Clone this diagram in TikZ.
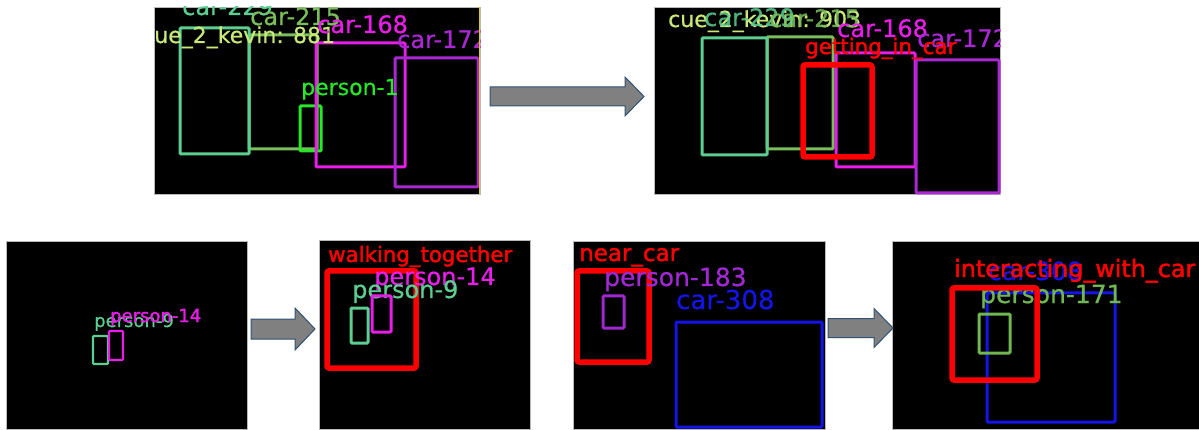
\documentclass[tikz,border=0pt]{standalone}
\usepackage{fontspec}
\newfontfamily\lblfont[FakeBold=0.6]{DejaVu Sans}
\newfontfamily\lblbold[FakeBold=1.8]{DejaVu Sans}
\newcommand\lblsz[1]{\fontsize{#1}{#1}\selectfont}

% label and box colours
\definecolor{cteal}{RGB}{92,206,146}
\definecolor{colive}{RGB}{122,190,92}
\definecolor{ccue}{RGB}{200,232,122}
\definecolor{cgreen}{RGB}{40,230,40}
\definecolor{cmag}{RGB}{232,30,232}
\definecolor{cpurple}{RGB}{170,40,212}
\definecolor{cviolet}{RGB}{160,40,210}
\definecolor{cred}{RGB}{255,0,0}
\definecolor{cblue}{RGB}{20,20,230}
\definecolor{cleaf}{RGB}{112,182,82}
\definecolor{arrfill}{RGB}{128,128,128}
\definecolor{arredge}{RGB}{47,82,115}

\tikzset{
  panel/.style={draw=gray!55, line width=0.7pt, fill=black, inner sep=0pt, anchor=north west},
  bx/.style={line width=3pt, rounded corners=1pt},
  redbx/.style={draw=cred, line width=5.5pt, rounded corners=2pt},
  lbl/.style={inner sep=0pt, anchor=base west},
  blockarrow/.style={fill=arrfill, draw=arredge, line width=1pt, line join=miter}
}

% block arrow: start x, head start x, tip x, centre y, half shaft, half head
\newcommand\blkarrow[6]{%
  \path[blockarrow] (#1,#4-#5) -- (#2,#4-#5) -- (#2,#4-#6) -- (#3,#4)
    -- (#2,#4+#6) -- (#2,#4+#5) -- (#1,#4+#5) -- cycle;}

\begin{document}
\begin{tikzpicture}[x=1pt,y=-1pt]
\useasboundingbox (0,0) rectangle (1199,430);

% ---------- frames ----------
\node[panel, minimum width=326pt, minimum height=187pt] (p1) at (154,7) {};
\node[panel, minimum width=346pt, minimum height=187pt] (p2) at (654,7) {};
\node[panel, minimum width=241pt, minimum height=188pt] (p3) at (6,241) {};
\node[panel, minimum width=211pt, minimum height=189pt] (p4) at (319,240) {};
\node[panel, minimum width=252pt, minimum height=188pt] (p5) at (573,241) {};
\node[panel, minimum width=307pt, minimum height=188pt] (p6) at (892,241) {};

% ---------- frame 1: cars and a person ----------
\begin{scope}
\clip (p1.north west) rectangle (p1.south east);
\draw[bx, colive] (249,35) rectangle (317,149);
\draw[bx, cteal] (180,28) rectangle (249,154);
\draw[bx, cgreen] (300,106) rectangle (321,151);
\draw[bx, cmag] (316,43) rectangle (405,167);
\draw[bx, cpurple] (395,58) rectangle (478,187);
\node[lbl, text=cteal, font=\lblfont\lblsz{24}] (t229a) at (182,15) {car-229};
\node[lbl, text=colive, font=\lblfont\lblsz{24}] (t215a) at (250,25) {car-215};
\node[lbl, text=ccue, font=\lblfont\lblsz{22}] (tcuea) at (142,43) {cue\_2\_kevin: 881};
\node[lbl, text=cmag, font=\lblfont\lblsz{24}] (t168a) at (317,33) {car-168};
\node[lbl, text=cpurple, font=\lblfont\lblsz{24}] (t172a) at (397,48) {car-172};
\node[lbl, text=cgreen, font=\lblfont\lblsz{22}] (tp1) at (301,95) {person-1};
\draw[line width=1pt, yellow!70!olive] (479.5,7) -- (479.5,194);
\end{scope}

% ---------- frame 2: getting in a car ----------
\begin{scope}
\clip (p2.north west) rectangle (p2.south east);
\draw[bx, colive] (767,37) rectangle (833,149);
\draw[bx, cteal] (702,38) rectangle (767,155);
\draw[bx, cmag] (836,53) rectangle (915,167);
\draw[bx, cpurple] (916,60) rectangle (999,193);
\node[lbl, text=ccue, font=\lblfont\lblsz{22}] (tcueb) at (668,27) {cue\_2\_kevin: 903};
\node[lbl, text=cteal, font=\lblfont\lblsz{24}, opacity=0.85] (t229b) at (704,26) {car-229};
\node[lbl, text=colive, font=\lblfont\lblsz{24}, opacity=0.85] (t215b) at (769,27) {car-215};
\node[lbl, text=cmag, font=\lblfont\lblsz{24}] (t168b) at (837,37) {car-168};
\node[lbl, text=cpurple, font=\lblfont\lblsz{24}] (t172b) at (917,47) {car-172};
\draw[redbx] (803,65) rectangle (872,157);
\node[lbl, text=cred, font=\lblbold\lblsz{21.4}] (tgic) at (805,54) {getting\_in\_car};
\end{scope}

% ---------- frame 3: two people ----------
\begin{scope}
\clip (p3.north west) rectangle (p3.south east);
\draw[bx, cteal, line width=2.4pt] (93,336) rectangle (108,364);
\draw[bx, cmag, line width=2.4pt] (109,331) rectangle (123,360);
\node[lbl, text=cteal, font=\lblfont\lblsz{18}] (tp9a) at (94,327) {person-9};
\node[lbl, text=cmag, font=\lblbold\lblsz{18}] (tp14a) at (110,322) {person-14};
\end{scope}

% ---------- frame 4: walking together ----------
\begin{scope}
\clip (p4.north west) rectangle (p4.south east);
\draw[redbx] (327,271) rectangle (416,368);
\node[lbl, text=cred, font=\lblbold\lblsz{21.3}] (twt) at (328,262) {walking\_together};
\node[lbl, text=cmag, font=\lblfont\lblsz{24}] (tp14b) at (374,285) {person-14};
\node[lbl, text=cteal, font=\lblfont\lblsz{24}] (tp9b) at (352,298) {person-9};
\draw[bx, cteal] (351,308) rectangle (368,343);
\draw[bx, cmag] (372,296) rectangle (391,332);
\end{scope}

% ---------- frame 5: near a car ----------
\begin{scope}
\clip (p5.north west) rectangle (p5.south east);
\draw[redbx] (577,271) rectangle (649,362);
\node[lbl, text=cred, font=\lblbold\lblsz{23}] (tnc) at (579,261) {near\_car};
\node[lbl, text=cviolet, font=\lblfont\lblsz{25}] (tp183) at (604,286) {person-183};
\draw[bx, cviolet] (603,296) rectangle (624,328);
\node[lbl, text=cblue, font=\lblfont\lblsz{26}] (t308a) at (676,309) {car-308};
\draw[bx, cblue] (676,322) rectangle (822,427);
\end{scope}

% ---------- frame 6: interacting with a car ----------
\begin{scope}
\clip (p6.north west) rectangle (p6.south east);
\node[lbl, text=cblue, font=\lblfont\lblsz{25}] (t308b) at (988,280) {car-308};
\draw[bx, cblue] (987,293) rectangle (1115,422);
\node[lbl, text=cleaf, font=\lblfont\lblsz{25}] (tp171) at (980,303) {person-171};
\draw[redbx] (952,288) rectangle (1037,380);
\node[lbl, text=cred, font=\lblbold\lblsz{23.8}] (tiwc) at (954,277) {interacting\_with\_car};
\draw[bx, cleaf] (979,314) rectangle (1010,353);
\end{scope}

% ---------- transitions ----------
\blkarrow{490}{625}{644}{96.5}{9.5}{19.5}
\blkarrow{251}{295}{315}{329}{10}{21}
\blkarrow{828}{874}{893}{328}{9.5}{19.5}
\end{tikzpicture}
\end{document}
